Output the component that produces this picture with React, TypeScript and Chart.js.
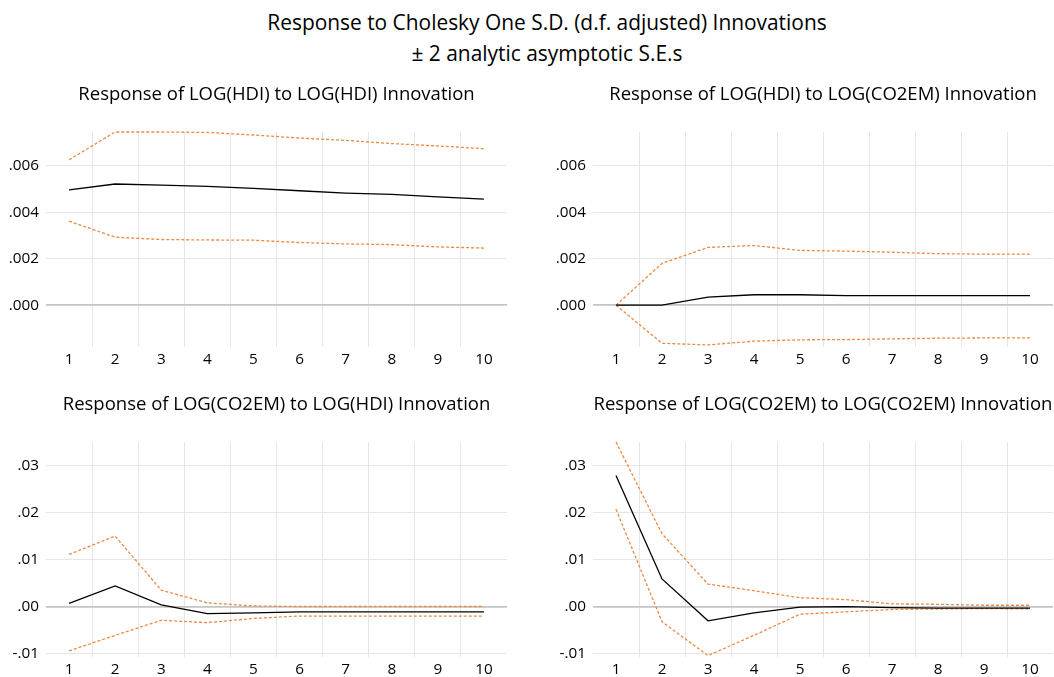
import React, { useEffect, useRef } from 'react';
import { Chart, registerables } from 'chart.js';

Chart.register(...registerables);

const FONT = "'Open Sans', 'Liberation Sans', Arial, sans-serif";
const ORANGE = '#EC8A44';

const periods = ['1', '2', '3', '4', '5', '6', '7', '8', '9', '10'];

// Response of LOG(HDI) to LOG(HDI)
const hdiHdiResp = [0.00497, 0.00522, 0.00517, 0.00512, 0.00503, 0.00493, 0.00483, 0.00477, 0.00467, 0.00457];
const hdiHdiUpper = [0.00626, 0.00746, 0.00746, 0.00744, 0.00733, 0.0072, 0.0071, 0.00696, 0.00686, 0.00674];
const hdiHdiLower = [0.00362, 0.00293, 0.00283, 0.00281, 0.0028, 0.0027, 0.00264, 0.00261, 0.00251, 0.00246];

// Response of LOG(HDI) to LOG(CO2EM)
const hdiCo2Resp = [0, 0, 0.00035, 0.00045, 0.00045, 0.00041, 0.00041, 0.00041, 0.00041, 0.00041];
const hdiCo2Upper = [0, 0.0018, 0.00249, 0.00257, 0.00236, 0.00233, 0.00228, 0.00222, 0.0022, 0.0022];
const hdiCo2Lower = [0, -0.00164, -0.00171, -0.00155, -0.00149, -0.00148, -0.00145, -0.00142, -0.00141, -0.00141];

// Response of LOG(CO2EM) to LOG(HDI)
const co2HdiResp = [0.0007, 0.0044, 0.0004, -0.0015, -0.0013, -0.0011, -0.0011, -0.0011, -0.0011, -0.0011];
const co2HdiUpper = [0.0111, 0.015, 0.0035, 0.0008, 0.00015, 0.00003, 0.00003, 0.00003, 0.00003, 0.00003];
const co2HdiLower = [-0.0094, -0.0061, -0.0029, -0.0034, -0.0025, -0.002, -0.002, -0.002, -0.002, -0.002];

// Response of LOG(CO2EM) to LOG(CO2EM)
const co2Co2Resp = [0.0279, 0.0059, -0.003, -0.0013, -0.0001, 0, -0.0002, -0.0003, -0.0003, -0.0003];
const co2Co2Upper = [0.035, 0.0155, 0.0048, 0.0034, 0.0019, 0.0015, 0.0006, 0.0005, 0.0003, 0.0003];
const co2Co2Lower = [0.0207, -0.0032, -0.0104, -0.0061, -0.0016, -0.0011, -0.0006, -0.0005, -0.0004, -0.0005];

const hdiTicks = [0, 0.002, 0.004, 0.006];
const co2Ticks = [-0.01, 0, 0.01, 0.02, 0.03];
const hdiRange = [-0.0018, 0.00746];
const co2Range = [-0.0107, 0.035];

const fmt = (v: number, d: number) => v.toFixed(d).replace(/^(-?)0\./, '$1.');

type PanelProps = {
  title: string;
  resp: number[];
  upper: number[];
  lower: number[];
  ticks: number[];
  range: number[];
  decimals: number;
  left: number;
  top: number;
  width: number;
  height: number;
  yAxisWidth: number;
  xAxisHeight: number;
  rightPad: number;
};

function Panel(p: PanelProps) {
  const ref = useRef<HTMLCanvasElement | null>(null);
  useEffect(() => {
    if (!ref.current) return;
    const tickFont = { family: FONT, size: 15.3 };
    const chart = new Chart(ref.current, {
      type: 'line',
      data: {
        labels: periods,
        datasets: [
          { data: p.resp, borderColor: '#000000', borderWidth: 1.3, pointRadius: 0, tension: 0, fill: false, clip: 3 },
          { data: p.upper, borderColor: ORANGE, borderWidth: 1.3, borderDash: [3, 2], pointRadius: 0, tension: 0, fill: false, clip: 3 },
          { data: p.lower, borderColor: ORANGE, borderWidth: 1.3, borderDash: [3, 2], pointRadius: 0, tension: 0, fill: false, clip: 3 },
        ],
      },
      options: {
        animation: false,
        responsive: false,
        maintainAspectRatio: false,
        devicePixelRatio: 1,
        layout: { padding: { left: 0, right: p.rightPad, top: 0, bottom: 0 } },
        plugins: {
          legend: { display: false },
          tooltip: { enabled: false },
          title: {
            display: true,
            text: p.title,
            fullSize: false,
            color: '#000000',
            font: { family: FONT, size: 18.5, weight: 'normal', lineHeight: 1.2 },
            padding: { top: 4, bottom: 25.8 },
          },
        },
        scales: {
          x: {
            type: 'category',
            offset: true,
            grid: {
              offset: true,
              drawTicks: false,
              lineWidth: 1,
              color: (c: any) => (c.type !== 'tick' || c.index === 0 ? 'rgba(0,0,0,0)' : '#e6e6e6'),
            },
            border: { display: false },
            ticks: { color: '#000000', font: tickFont, padding: 3, maxRotation: 0, autoSkip: false },
            afterFit: (s: any) => {
              s.height = p.xAxisHeight;
            },
          },
          y: {
            type: 'linear',
            min: p.range[0],
            max: p.range[1],
            afterBuildTicks: (s: any) => {
              s.ticks = p.ticks.map((v) => ({ value: v }));
            },
            grid: {
              drawTicks: false,
              color: (c: any) => (c.tick && c.tick.value === 0 ? '#c4c4c4' : '#e6e6e6'),
              lineWidth: (c: any) => (c.tick && c.tick.value === 0 ? 1.8 : 1),
            },
            border: { display: false },
            ticks: {
              color: '#000000',
              font: tickFont,
              padding: 7,
              callback: (v: any) => fmt(Number(v), p.decimals),
            },
            afterFit: (s: any) => {
              s.width = p.yAxisWidth;
            },
          },
        },
      },
    } as any);
    return () => chart.destroy();
  }, []);
  return (
    <canvas
      ref={ref}
      width={p.width}
      height={p.height}
      style={{ position: 'absolute', left: p.left, top: p.top, width: p.width, height: p.height, display: 'block' }}
    />
  );
}

export default function App() {
  const mainStyle = {
    position: 'absolute' as const, left: 0, width: 1094, textAlign: 'center' as const,
    fontFamily: FONT, fontSize: 20.9, lineHeight: '24px', color: '#000', whiteSpace: 'nowrap' as const,
  };
  return (
    <div style={{ position: 'fixed', left: 0, top: 0, width: 1054, height: 677, background: '#ffffff', overflow: 'hidden' }}>
      <div style={{ ...mainStyle, top: 10 }}>Response to Cholesky One S.D. (d.f. adjusted) Innovations</div>
      <div style={{ ...mainStyle, top: 41 }}>± 2 analytic asymptotic S.E.s</div>
      <Panel title="Response of LOG(HDI) to LOG(HDI) Innovation" resp={hdiHdiResp} upper={hdiHdiUpper} lower={hdiHdiLower}
        ticks={hdiTicks} range={hdiRange} decimals={3} left={0} top={80} width={527} height={300}
        yAxisWidth={46} xAxisHeight={33} rightPad={20} />
      <Panel title="Response of LOG(HDI) to LOG(CO2EM) Innovation" resp={hdiCo2Resp} upper={hdiCo2Upper} lower={hdiCo2Lower}
        ticks={hdiTicks} range={hdiRange} decimals={3} left={527} top={80} width={527} height={300}
        yAxisWidth={66} xAxisHeight={33} rightPad={1} />
      <Panel title="Response of LOG(CO2EM) to LOG(HDI) Innovation" resp={co2HdiResp} upper={co2HdiUpper} lower={co2HdiLower}
        ticks={co2Ticks} range={co2Range} decimals={2} left={0} top={390} width={527} height={287}
        yAxisWidth={46} xAxisHeight={20} rightPad={20} />
      <Panel title="Response of LOG(CO2EM) to LOG(CO2EM) Innovation" resp={co2Co2Resp} upper={co2Co2Upper} lower={co2Co2Lower}
        ticks={co2Ticks} range={co2Range} decimals={2} left={527} top={390} width={527} height={287}
        yAxisWidth={66} xAxisHeight={20} rightPad={1} />
    </div>
  );
}
